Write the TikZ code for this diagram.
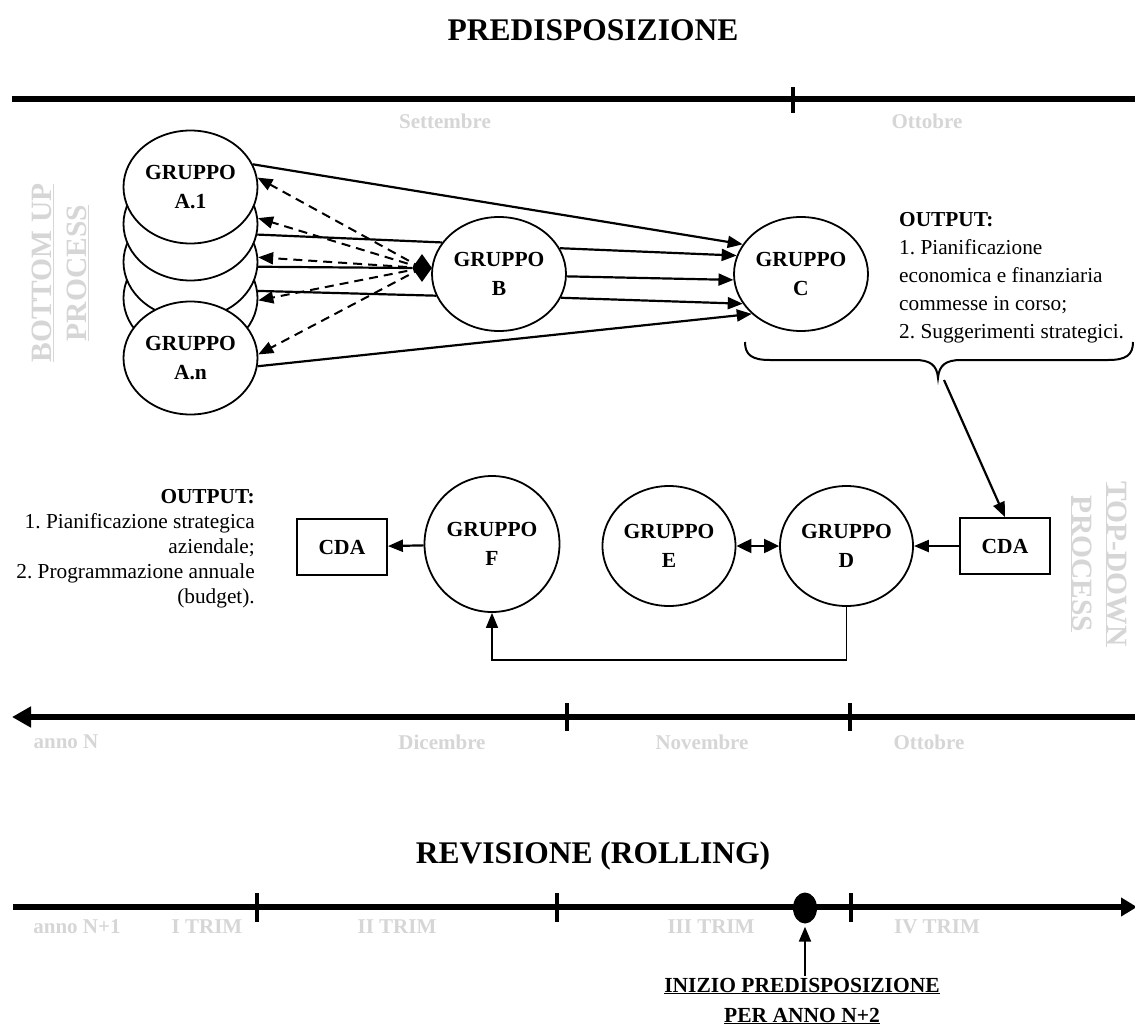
\documentclass[tikz,border=0pt]{standalone}
\usepackage{fontspec}
\setmainfont{Liberation Serif}
\usetikzlibrary{arrows.meta,shapes.geometric,calc}
\definecolor{faint}{RGB}{214,214,214}
\frenchspacing
\begin{document}
\begin{tikzpicture}[x=1pt,y=-1pt,
  grp/.style={ellipse,draw,line width=1.8pt,fill=white,inner sep=0pt,align=center,
    minimum width=134pt,minimum height=114pt,font=\fontsize{21.5}{29}\selectfont\bfseries},
  box/.style={rectangle,draw,line width=1.8pt,fill=white,minimum width=90pt,minimum height=56pt,
    inner sep=0pt,font=\fontsize{21.5}{25}\selectfont\bfseries},
  tl/.style={line width=5.5pt},
  tick/.style={line width=4.5pt},
  mon/.style={text=faint,font=\fontsize{21}{25}\selectfont\bfseries,inner sep=0pt},
  vlab/.style={text=faint,font=\fontsize{29.5}{35}\selectfont\bfseries,align=center,inner sep=0pt},
  ttl/.style={font=\fontsize{31.5}{36}\selectfont\bfseries,inner sep=0pt},
  plain/.style={line width=2.2pt},
  arr/.style={line width=2.2pt,-{Triangle[length=15pt,width=12pt]}},
  darr/.style={line width=2pt,dash pattern=on 9pt off 6pt,-{Triangle[length=15pt,width=12pt]}},
  dbl/.style={line width=2pt,{Triangle[length=15pt,width=14pt]}-{Triangle[length=15pt,width=14pt]}},
  txt/.style={font=\fontsize{21.3}{25}\selectfont,inner sep=0pt}
]
\fill[white] (0,0) rectangle (1135,1028);
\useasboundingbox (0,0) rectangle (1135,1028);

% ---------- PREDISPOSIZIONE ----------
\node[ttl] (title1) at (593,30) {PREDISPOSIZIONE};

% upper time axis
\draw[tl] (12,99) -- (1140,99);
\draw[tick] (793,87) -- (793,113);
\node[mon] (mSet) at (445,121) {Settembre};
\node[mon] (mOtt1) at (927,121) {Ottobre};

% side labels
\node[vlab,rotate=90] (bottomup) at (60,273) {\underline{BOTTOM UP}\\\underline{PROCESS}};
\node[vlab,rotate=-90] (topdown) at (1099,564) {\underline{TOP-DOWN}\\\underline{PROCESS}};

% stacked A groups
\node[grp,minimum height=113pt] (A4) at (190.5,298) {};
\node[grp,minimum height=113pt] (A3) at (190.5,262) {};
\node[grp,minimum height=113pt] (A2) at (190.5,224) {};
\node[grp,minimum height=113pt] (A1) at (190.5,187) {GRUPPO\\A.1};
\node[grp,minimum height=113pt] (An) at (190.5,358) {GRUPPO\\A.n};

\node[grp] (B) at (499,274) {GRUPPO\\B};
\node[grp] (C) at (801,274) {GRUPPO\\C};

% feedback from B to the A groups
\coordinate (hub) at (422,268);
\draw[darr] (hub) -- (A1.8);
\draw[darr] (hub) -- (A2.5);
\draw[darr] (hub) -- (A3.4);
\draw[darr] (hub) -- (A4.-2);
\draw[darr] (hub) -- (An.3);
\node[diamond,fill=black,minimum width=20pt,minimum height=28pt,inner sep=0pt] (dia) at (hub) {};

% A groups to B and C
\draw[arr] (A1.20) -- (C.153);
\draw[plain] (A2.-9) -- (B.151);
\draw[plain] (A3.-4) -- (dia.west);
\draw[plain] (A4.6) -- (B.199);
\draw[arr] (An.-7) -- (C.219);

% B to C
\draw[arr] (B.23) -- (C.164);
\draw[arr] (B.-2) -- (C.185);
\draw[arr] (B.-21) -- (C.207);

% output of C
\node[txt,align=left,anchor=north west,font=\fontsize{21.3}{28}\selectfont] (outC) at (899,212)
  {\textbf{OUTPUT:}\\1. Pianificazione\\economica e finanziaria\\commesse in corso;\\2. Suggerimenti strategici.};

% brace under C and its output
\draw[line width=2pt] (745,342) .. controls (745,355) and (752,360) .. (770,360) -- (915,360)
  .. controls (930,360) and (937,365) .. (938,378)
  .. controls (939,365) and (946,360) .. (961,360) -- (1108,360)
  .. controls (1126,360) and (1133,355) .. (1133,342);
\coordinate (btip) at (944,380);

% top-down chain
\node[box] (cdaR) at (1005,546) {CDA};
\node[grp,minimum width=133pt,minimum height=120pt] (D) at (846.5,546) {GRUPPO\\D};
\node[grp,minimum width=133pt,minimum height=120pt] (E) at (669,546) {GRUPPO\\E};
\node[grp,minimum width=135pt,minimum height=136pt] (F) at (492,544) {GRUPPO\\F};
\node[box] (cdaL) at (342,547) {CDA};

\draw[arr] (btip) -- (cdaR.north);
\draw[arr] (cdaR) -- (D);
\draw[dbl] (E) -- (D);
\draw[arr,line width=1.6pt] (D.south) -- ++(0,53) -| (F.south);
\draw[arr] (F) -- (cdaL);

\node[txt,align=right,anchor=north east] (outF) at (255,489)
  {\textbf{OUTPUT:}\\1. Pianificazione strategica\\aziendale;\\2. Programmazione annuale\\(budget).};

% lower time axis (running backwards)
\draw[tl,{Triangle[length=19pt,width=20pt]}-] (12,717) -- (1140,717);
\draw[tick] (567,703) -- (567,731);
\draw[tick] (850,703) -- (850,731);
\node[mon] (mAnnoN) at (66,742) {anno N};
\node[mon] (mDic) at (442,742) {Dicembre};
\node[mon] (mNov) at (702,742) {Novembre};
\node[mon] (mOtt2) at (929,742) {Ottobre};

% ---------- REVISIONE ----------
\node[ttl] (title2) at (593,856) {REVISIONE (ROLLING)};

\draw[tl,-{Triangle[length=16pt,width=18pt]}] (13,907) -- (1137,907);
\draw[tick] (257,893) -- (257,922);
\draw[tick] (557,893) -- (557,922);
\draw[tick] (851,893) -- (851,922);
\node[ellipse,fill=black,minimum width=24pt,minimum height=31pt,inner sep=0pt] (dot) at (805,908) {};

\node[mon] (q0) at (77,927) {anno N+1};
\node[mon] (q1) at (207,927) {I TRIM};
\node[mon] (q2) at (397,927) {II TRIM};
\node[mon] (q3) at (711,927) {III TRIM};
\node[mon] (q4) at (937,927) {IV TRIM};

\node[align=center,font=\fontsize{21.5}{30}\selectfont\bfseries,inner sep=0pt] (ini) at (802,1001)
  {\underline{INIZIO PREDISPOSIZIONE}\\\underline{PER ANNO N+2}};
\draw[arr,shorten >=3pt] (ini.north -| dot.south) ++(0,-2) -- (dot.south);
\end{tikzpicture}
\end{document}
